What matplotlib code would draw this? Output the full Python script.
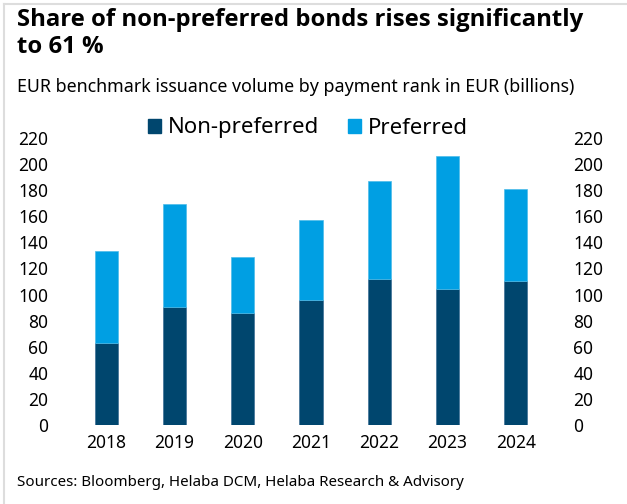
import matplotlib.pyplot as plt
import numpy as np
from matplotlib.lines import Line2D
from matplotlib.patches import Patch

plt.rcParams['font.family'] = ['Noto Sans', 'DejaVu Sans']

years = ['2018', '2019', '2020', '2021', '2022', '2023', '2024']
non_preferred = [63.0, 90.7, 86.0, 95.5, 111.7, 104.0, 110.6]
total = [133.4, 169.3, 128.6, 157.2, 186.9, 206.4, 181.0]
preferred = [t - n for t, n in zip(total, non_preferred)]

dark_blue = '#00466e'
light_blue = '#009fe3'

fig = plt.figure(figsize=(6.27, 5.04), dpi=100)
ax = fig.add_axes([0.1148, 0.1573, 0.877 - 0.1148, 0.7256 - 0.1573])

x = np.arange(len(years))
ax.bar(x, non_preferred, width=0.34, color=dark_blue, edgecolor='#3d6f95', linewidth=0.5)
ax.bar(x, preferred, width=0.34, bottom=non_preferred, color=light_blue,
       edgecolor='#4dbcea', linewidth=0.5)

ax.set_xlim(-0.5, len(years) - 0.5)
ax.set_ylim(0, 220)
ax.set_yticks(np.arange(0, 221, 20))
ax.set_xticks(x)
ax.set_xticklabels(years)
ax.tick_params(axis='y', length=0, labelsize=12.5, labelright=True, pad=17)
ax.tick_params(axis='x', length=0, labelsize=12.5, pad=7)
for s in ax.spines.values():
    s.set_visible(False)

handles = [Patch(color=dark_blue), Patch(color=light_blue)]
fig.legend(handles, ['Non-preferred', 'Preferred'], loc='center',
           bbox_to_anchor=(308 / 627, 1 - 128 / 504), ncol=2, frameon=False,
           fontsize=16, handlelength=0.6, handleheight=0.6, handletextpad=0.3,
           columnspacing=1.3)

# titles and source
fig.text(17 / 627, 1 - 8 / 504, 'Share of non-preferred bonds rises significantly\nto 61 %',
         fontsize=17.2, fontweight='bold', family=['Open Sans', 'DejaVu Sans'],
         va='top', ha='left', linespacing=1.15)
fig.text(17 / 627, 1 - 87 / 504, 'EUR benchmark issuance volume by payment rank in EUR (billions)',
         fontsize=12.8, va='center', ha='left')
fig.text(17 / 627, 1 - 483 / 504, 'Sources: Bloomberg, Helaba DCM, Helaba Research & Advisory',
         fontsize=10.9, va='center', ha='left')

# light card border (top and left)
fig.add_artist(Line2D([4 / 627, 4 / 627], [0, 1 - 4 / 504], color='#dddddd', lw=1.5,
                      transform=fig.transFigure))
fig.add_artist(Line2D([4 / 627, 1], [1 - 4 / 504, 1 - 4 / 504], color='#dddddd', lw=1.5,
                      transform=fig.transFigure))

fig.savefig('out.png', dpi=100)
